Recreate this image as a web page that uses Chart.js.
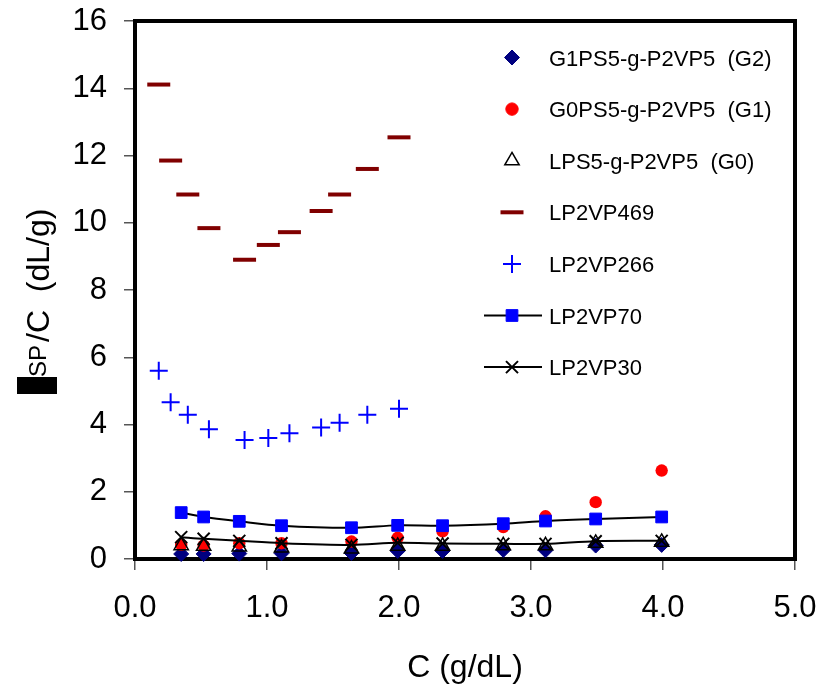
<!DOCTYPE html>
<html><head><meta charset="utf-8">
<script src="https://cdn.jsdelivr.net/npm/chart.js@4.4.0/dist/chart.umd.min.js"></script>
<style>html,body{margin:0;padding:0;background:#fff;}#wrap{width:826px;height:686px;}</style>
</head><body><div id="wrap"><canvas id="c" width="826" height="686"></canvas></div>
<script>
// ---- data ----
const concLow  = [0.35, 0.52, 0.79, 1.11, 1.64, 1.99, 2.33, 2.79, 3.11, 3.49, 3.99];
const concHigh = [0.18, 0.27, 0.40, 0.56, 0.83, 1.01, 1.17, 1.41, 1.55, 1.76, 2.00];
const g2Vals    = [0.15, 0.15, 0.16, 0.17, 0.18, 0.24, 0.24, 0.27, 0.26, 0.40, 0.42];
const g1Vals    = [0.42, 0.40, 0.47, 0.47, 0.52, 0.63, 0.82, 0.95, 1.27, 1.69, 2.63];
const g0Vals    = [0.40, 0.38, 0.36, 0.33, 0.30, 0.38, 0.38, 0.40, 0.40, 0.47, 0.50];
const lp469Vals = [14.11, 11.85, 10.84, 9.84, 8.90, 9.34, 9.72, 10.35, 10.84, 11.60, 12.54];
const lp266Vals = [5.60, 4.66, 4.29, 3.86, 3.54, 3.60, 3.74, 3.91, 4.05, 4.29, 4.47];
const lp70Vals  = [1.38, 1.25, 1.12, 0.99, 0.93, 1.00, 0.99, 1.05, 1.13, 1.19, 1.25];
const lp30Vals  = [0.65, 0.60, 0.54, 0.47, 0.42, 0.48, 0.46, 0.45, 0.45, 0.53, 0.54];
const seriesNames = ['G1PS5-g-P2VP5  (G2)', 'G0PS5-g-P2VP5  (G1)', 'LPS5-g-P2VP5  (G0)', 'LP2VP469', 'LP2VP266', 'LP2VP70', 'LP2VP30'];
const xTickVals = [0, 1, 2, 3, 4, 5];
const yTickVals = [0, 2, 4, 6, 8, 10, 12, 14, 16];
const xTitle = 'C (g/dL)';
const yTitleSymbol = 'η', yTitleSub = 'SP', yTitleRest = '/C  (dL/g)';

const FONT = '"Liberation Sans", Arial, sans-serif';
const pts = (xs, ys) => xs.map((x, i) => ({x: x, y: ys[i]}));

const styles = [
  {pointStyle: 'rectRot', radius: 7.5, bg: '#000080', bc: '#000080', bw: 1, line: false},
  {pointStyle: 'circle', radius: 6.2, bg: '#FF0000', bc: '#FF0000', bw: 0, line: false},
  {pointStyle: 'triangle', radius: 8.3, bg: 'rgba(0,0,0,0)', bc: '#000000', bw: 1.5, line: false},
  {pointStyle: 'line', radius: 11.5, bg: '#800000', bc: '#800000', bw: 4, line: false},
  {pointStyle: 'cross', radius: 9, bg: '#0000FF', bc: '#0000FF', bw: 2, line: false},
  {pointStyle: 'rect', radius: 8.3, bg: '#0000FF', bc: '#0000FF', bw: 1, line: true},
  {pointStyle: 'crossRot', radius: 8.5, bg: '#000000', bc: '#000000', bw: 2, line: true}
];
const dataSets = [pts(concLow, g2Vals), pts(concLow, g1Vals), pts(concLow, g0Vals),
  pts(concHigh, lp469Vals), pts(concHigh, lp266Vals), pts(concLow, lp70Vals), pts(concLow, lp30Vals)];

const datasets = dataSets.map((d, i) => {
  const s = styles[i];
  return {
    label: seriesNames[i], data: d, order: -i, clip: false,
    showLine: s.line, borderColor: '#000000', borderWidth: 2, tension: 0.3,
    pointStyle: s.pointStyle, pointRadius: s.radius, pointHoverRadius: s.radius,
    pointBackgroundColor: s.bg, pointBorderColor: s.bc, pointBorderWidth: s.bw
  };
});

function drawMarker(ctx, style, r, x, y) {
  ctx.beginPath();
  const c = Math.SQRT1_2;
  switch (style) {
    case 'circle': ctx.arc(x, y, r, 0, Math.PI * 2); break;
    case 'rect': ctx.rect(x - c * r, y - c * r, 2 * c * r, 2 * c * r); break;
    case 'rectRot': ctx.moveTo(x - r, y); ctx.lineTo(x, y - r); ctx.lineTo(x + r, y); ctx.lineTo(x, y + r); ctx.closePath(); break;
    case 'triangle':
      ctx.moveTo(x, y - r);
      ctx.lineTo(x + Math.sin(2 * Math.PI / 3) * r, y - Math.cos(2 * Math.PI / 3) * r);
      ctx.lineTo(x + Math.sin(4 * Math.PI / 3) * r, y - Math.cos(4 * Math.PI / 3) * r);
      ctx.closePath(); break;
    case 'line': ctx.moveTo(x - r, y); ctx.lineTo(x + r, y); break;
    case 'cross': ctx.moveTo(x, y - r); ctx.lineTo(x, y + r); ctx.moveTo(x - r, y); ctx.lineTo(x + r, y); break;
    case 'crossRot': ctx.moveTo(x - c * r, y - c * r); ctx.lineTo(x + c * r, y + c * r); ctx.moveTo(x - c * r, y + c * r); ctx.lineTo(x + c * r, y - c * r); break;
  }
  if (style !== 'line' && style !== 'cross' && style !== 'crossRot') ctx.fill();
  if (ctx.lineWidth > 0) ctx.stroke();
}

const framePlugin = {
  id: 'frame',
  beforeDatasetsDraw(chart) {
    const {ctx, chartArea: a} = chart;
    ctx.save();
    ctx.strokeStyle = '#000'; ctx.lineWidth = 4;
    ctx.strokeRect(a.left, a.top, a.right - a.left, a.bottom - a.top);
    ctx.restore();
  },
  afterDraw(chart) {
    const ctx = chart.ctx;
    ctx.save();
    // legend
    const rowY0 = 57.5, rowGap = 51.6, mx = 512, tx = 549;
    ctx.font = '22px ' + FONT;
    ctx.textBaseline = 'alphabetic'; ctx.textAlign = 'left';
    chart.data.datasets.forEach((ds, i) => {
      const y = rowY0 + i * rowGap;
      const s = styles[i];
      if (s.line) {
        ctx.strokeStyle = '#000'; ctx.lineWidth = 2;
        ctx.beginPath(); ctx.moveTo(484, y); ctx.lineTo(542, y); ctx.stroke();
      }
      ctx.fillStyle = s.bg; ctx.strokeStyle = s.bc; ctx.lineWidth = s.bw;
      drawMarker(ctx, s.pointStyle, s.radius, mx, y);
      ctx.fillStyle = '#000';
      ctx.fillText(ds.label, tx, y + 8);
    });
    // x title
    ctx.font = '32px ' + FONT; ctx.textAlign = 'center'; ctx.fillStyle = '#000';
    ctx.fillText(xTitle, 465, 677);
    // y title
    ctx.fillStyle = '#000';
    ctx.fillRect(17, 377, 40, 17);
    ctx.save();
    ctx.translate(48, 394); ctx.rotate(-Math.PI / 2);
    ctx.textAlign = 'left';
    ctx.font = '24px ' + FONT;
    ctx.fillText(yTitleSymbol, 2, 0);
    ctx.restore();
    ctx.save();
    ctx.translate(46, 377); ctx.rotate(-Math.PI / 2);
    ctx.textAlign = 'left'; ctx.font = '24px ' + FONT;
    ctx.fillText(yTitleSub, 0, 0);
    ctx.restore();
    ctx.save();
    ctx.translate(49, 342); ctx.rotate(-Math.PI / 2);
    ctx.textAlign = 'left'; ctx.font = '32px ' + FONT;
    ctx.fillText(yTitleRest, 0, 0);
    ctx.restore();
    ctx.restore();
  }
};

const zeroPad = s => { s.paddingTop = 0; s.paddingBottom = 0; s.paddingLeft = 0; s.paddingRight = 0; };

new Chart(document.getElementById('c'), {
  type: 'scatter',
  data: {datasets: datasets},
  options: {
    responsive: false, animation: false, devicePixelRatio: 1,
    layout: {padding: {top: 21, right: 31, left: 0, bottom: 0}},
    plugins: {legend: {display: false}, tooltip: {enabled: false}, title: {display: false}},
    scales: {
      x: {
        type: 'linear', min: 0, max: 5,
        afterBuildTicks: s => { s.ticks = xTickVals.map(v => ({value: v})); },
        afterFit: s => { s.height = 686 - 559; zeroPad(s); },
        ticks: {callback: v => Number(v).toFixed(1), font: {family: FONT, size: 31}, color: '#000', padding: 20, maxRotation: 0, autoSkip: false},
        grid: {drawOnChartArea: false, drawTicks: true, tickLength: 11, color: '#555', lineWidth: 1.5},
        border: {display: true, color: '#000', width: 4}
      },
      y: {
        type: 'linear', min: 0, max: 16,
        afterBuildTicks: s => { s.ticks = yTickVals.map(v => ({value: v})); },
        afterFit: s => { s.width = 135; zeroPad(s); },
        ticks: {callback: v => String(v), font: {family: FONT, size: 31}, color: '#000', padding: 17, autoSkip: false},
        grid: {drawOnChartArea: false, drawTicks: true, tickLength: 11, color: '#555', lineWidth: 1.5},
        border: {display: true, color: '#000', width: 4}
      }
    }
  },
  plugins: [framePlugin]
});
</script></body></html>
